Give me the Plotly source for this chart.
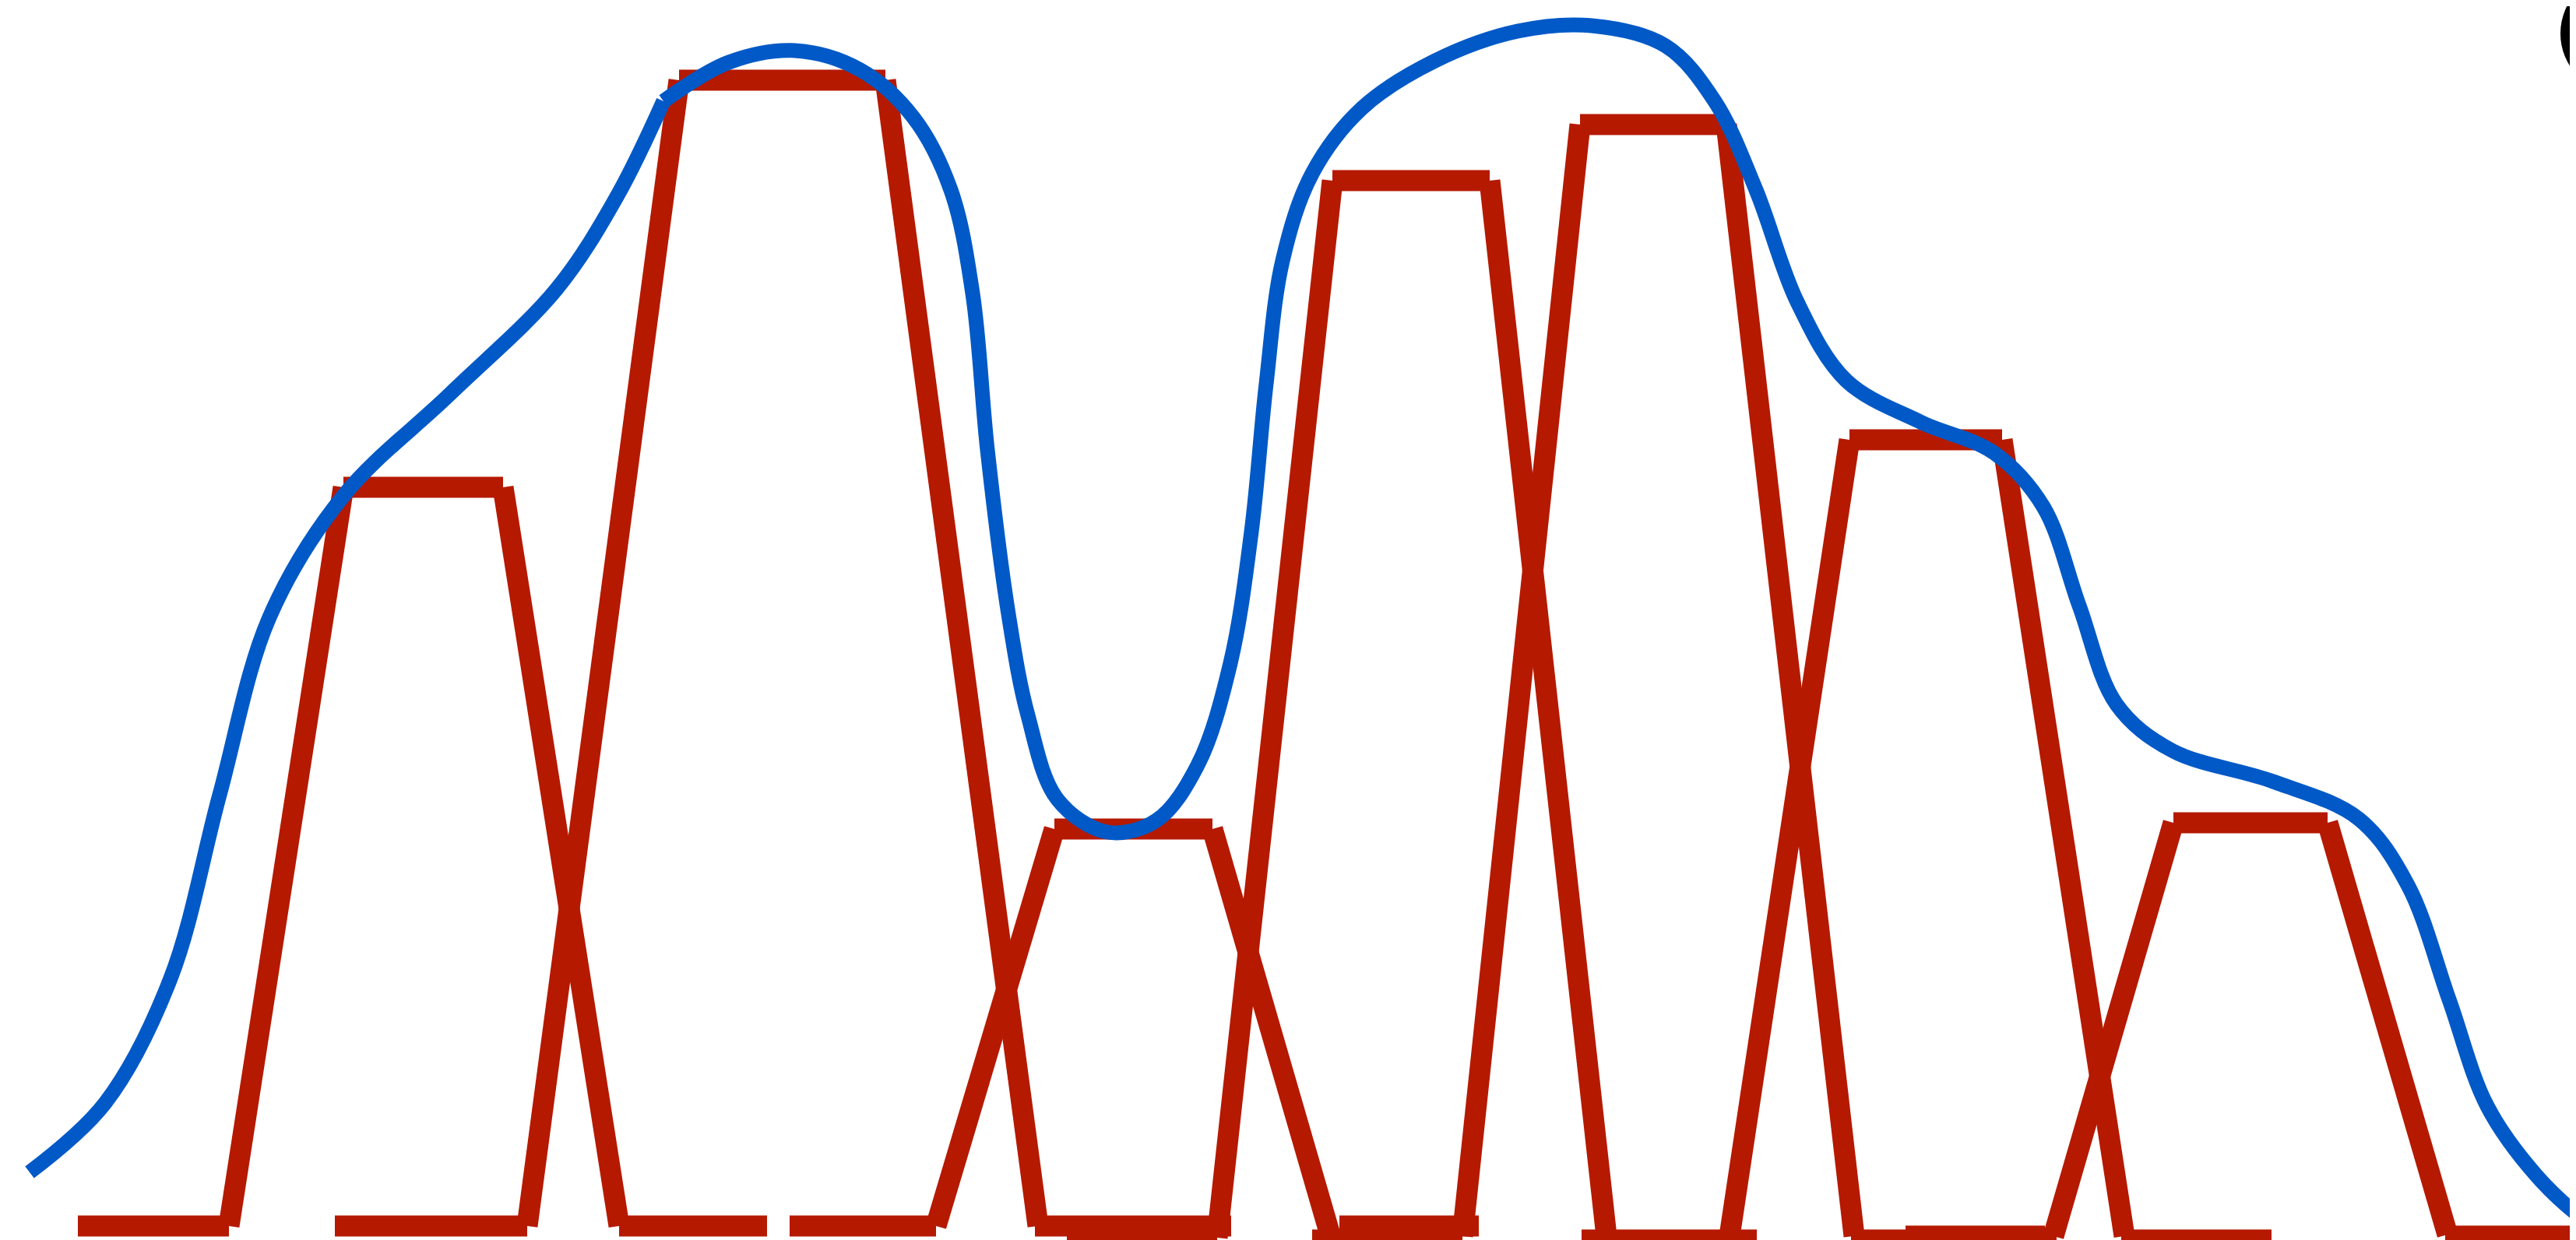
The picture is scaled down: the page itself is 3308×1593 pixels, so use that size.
import plotly.graph_objects as go

# ---- red trapezoids (x positions and heights, in canvas units) ----
bar_rise_x0 = [286, 669, 1194, 1555, 1870, 2213, 2629]
bar_top_x0 = [433, 864, 1346, 1703, 2021, 2367, 2783]
bar_top_x1 = [638, 1129, 1549, 1905, 2209, 2563, 2981]
bar_fall_x1 = [787, 1325, 1700, 2055, 2373, 2720, 3135]
bar_top = [975, 1498, 536, 1369, 1441, 1036, 544]
bar_rise_y0 = [26, 26, 26, 11, 13, 13, 13]
bar_fall_y1 = [26, 26, 15, 13, 13, 13, 15]

# ---- red base segments ----
base_x0 = [92, 422, 787, 1006, 1321, 1362, 1677, 1712, 2023, 2369, 2439, 2716, 3132]
base_x1 = [286, 669, 977, 1194, 1573, 1555, 1870, 1891, 2248, 2633, 2618, 2909, 3340]
base_y = [26, 26, 26, 26, 26, 0, 8, 26, 8, 8, 13, 8, 13]

# ---- blue curve (two pieces meeting at a corner) ----
blue1_x = [30, 127, 211, 274, 338, 433, 570, 707, 785, 844]
blue1_y = [95, 184, 344, 580, 808, 964, 1095, 1230, 1350, 1471]
blue2_x = [844, 928, 1013, 1097, 1165, 1213, 1241, 1260, 1287, 1312, 1350, 1414, 1477, 1530,
           1572, 1599, 1618, 1639, 1677, 1741, 1835, 1941, 2036, 2131, 2194, 2247, 2300, 2363,
           2458, 2553, 2616, 2662, 2710, 2781, 2911, 3021, 3084, 3137, 3186, 3249, 3308, 3376]
blue2_y = [1471, 1521, 1536, 1511, 1450, 1357, 1224, 1023, 812, 682, 574, 532, 547, 618,
           749, 918, 1108, 1266, 1378, 1462, 1523, 1561, 1568, 1542, 1471, 1357, 1213, 1112,
           1059, 1019, 950, 823, 696, 637, 597, 549, 464, 317, 180, 91, 36, -6]

# ---- black dot (centre and radius) ----
dot_x = 3358
dot_y = 1558
dot_r = 78

RED = "rgb(181,25,0)"
BLUE = "rgb(0,89,199)"

rx, ry = [], []
for i in range(len(base_x0)):
    rx += [base_x0[i], base_x1[i], None]
    ry += [base_y[i], base_y[i], None]
for i in range(len(bar_top)):
    rx += [bar_rise_x0[i], bar_top_x0[i], None, bar_top_x0[i], bar_top_x1[i], None,
           bar_top_x1[i], bar_fall_x1[i], None]
    ry += [bar_rise_y0[i], bar_top[i], None, bar_top[i], bar_top[i], None,
           bar_top[i], bar_fall_y1[i], None]

fig = go.Figure()
fig.add_trace(go.Scatter(x=rx, y=ry, mode="lines", line=dict(color=RED, width=27),
                         connectgaps=False, hoverinfo="skip"))
fig.add_trace(go.Scatter(x=blue1_x, y=blue1_y, mode="lines",
                         line=dict(color=BLUE, width=19, shape="spline", smoothing=1)))
fig.add_trace(go.Scatter(x=blue2_x, y=blue2_y, mode="lines",
                         line=dict(color=BLUE, width=19, shape="spline", smoothing=1)))
fig.add_shape(type="circle", xref="x", yref="y",
              x0=dot_x - dot_r, x1=dot_x + dot_r, y0=dot_y - dot_r, y1=dot_y + dot_r,
              fillcolor="black", line=dict(width=0), layer="above")

fig.update_layout(
    width=3308, height=1593,
    margin=dict(l=0, r=0, t=0, b=0, pad=0),
    paper_bgcolor="white", plot_bgcolor="white",
    showlegend=False,
    xaxis=dict(range=[0, 3308], visible=False, fixedrange=True),
    yaxis=dict(range=[0, 1593], visible=False, fixedrange=True),
)
fig.write_html("out.html")
